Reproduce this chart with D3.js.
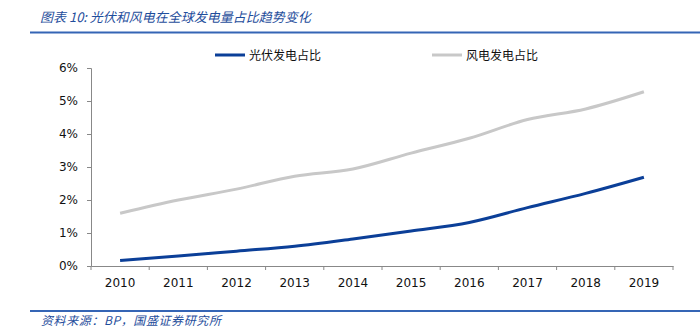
<!DOCTYPE html>
<html><head><meta charset="utf-8">
<script src="https://cdn.jsdelivr.net/npm/d3@7"></script>
<style>body{margin:0;background:#fff;} svg{display:block;}</style>
</head><body>
<svg id="c" width="700" height="330"></svg>
<script>
const years = ["2010","2011","2012","2013","2014","2015","2016","2017","2018","2019"];
const solarShare = [0.17, 0.30, 0.45, 0.60, 0.82, 1.06, 1.32, 1.77, 2.20, 2.69];
const windShare = [1.60, 2.00, 2.33, 2.72, 2.94, 3.42, 3.87, 4.44, 4.76, 5.28];
const yTicks = [0,1,2,3,4,5,6];
const seriesNames = ["光伏发电占比","风电发电占比"];
const titleText = "图表 10:  光伏和风电在全球发电量占比趋势变化";
const sourceText = "资料来源：BP，国盛证券研究所";

const svg = d3.select("#c");
const font = "'Noto Sans CJK SC', 'Noto Sans', sans-serif";
const numFont = "Tahoma, 'DejaVu Sans', Verdana, sans-serif";
const blue = "#0B3F98", gray = "#C8C8C8", titleBlue = "#1F4E9C";

// Title
svg.append("text").attr("x",40).attr("y",22).text(titleText)
  .attr("font-family",font).attr("font-size",13).attr("font-style","italic")
  .attr("fill",titleBlue);
svg.append("line").attr("x1",30).attr("x2",700).attr("y1",32.5).attr("y2",32.5)
  .attr("stroke","#3565B5").attr("stroke-width",2);

// Source
svg.append("line").attr("x1",30).attr("x2",700).attr("y1",311).attr("y2",311)
  .attr("stroke","#3565B5").attr("stroke-width",2);
svg.append("text").attr("x",41).attr("y",325).text(sourceText)
  .attr("font-family",font).attr("font-size",12).attr("font-style","italic")
  .attr("letter-spacing",0.6).attr("fill",titleBlue);

const x = d3.scaleBand().domain(years).range([91,673]);
const y = d3.scaleLinear().domain([0,6]).range([266,68]);

// axes
const xAxis = svg.append("g").attr("transform","translate(0,266)")
  .call(d3.axisBottom(x).tickSize(0).tickPadding(12));
xAxis.select(".domain").attr("stroke","#888");
xAxis.selectAll("text").attr("font-family",numFont).attr("font-size",12).attr("fill","#111");
// x tick marks at band boundaries
const bounds = years.map(d=>x(d)).concat([x.range()[1]]);
svg.append("g").selectAll("line").data(bounds).join("line")
  .attr("x1",d=>d).attr("x2",d=>d).attr("y1",266).attr("y2",270)
  .attr("stroke","#888");

const yAxis = svg.append("g").attr("transform","translate(91,0)")
  .call(d3.axisLeft(y).tickValues(yTicks).tickFormat(d=>d+"%").tickSize(4).tickPadding(9));
yAxis.select(".domain").attr("stroke","#888");
yAxis.selectAll(".tick line").attr("stroke","#888");
yAxis.selectAll("text").attr("font-family",numFont).attr("font-size",12).attr("fill","#111");

const line = d3.line().x((d,i)=>x(years[i])+x.bandwidth()/2).y(d=>y(d)).curve(d3.curveMonotoneX);
svg.append("path").datum(windShare).attr("d",line).attr("fill","none")
  .attr("stroke",gray).attr("stroke-width",3);
svg.append("path").datum(solarShare).attr("d",line).attr("fill","none")
  .attr("stroke",blue).attr("stroke-width",3);

// legend
const legend = [{name:seriesNames[0],color:blue,x:215},{name:seriesNames[1],color:gray,x:432}];
const lg = svg.append("g").selectAll("g").data(legend).join("g");
lg.append("line").attr("x1",d=>d.x).attr("x2",d=>d.x+30).attr("y1",55).attr("y2",55)
  .attr("stroke",d=>d.color).attr("stroke-width",3);
lg.append("text").attr("x",d=>d.x+34).attr("y",59.5).text(d=>d.name)
  .attr("font-family",font).attr("font-size",12).attr("fill","#111");
</script>
</body></html>
